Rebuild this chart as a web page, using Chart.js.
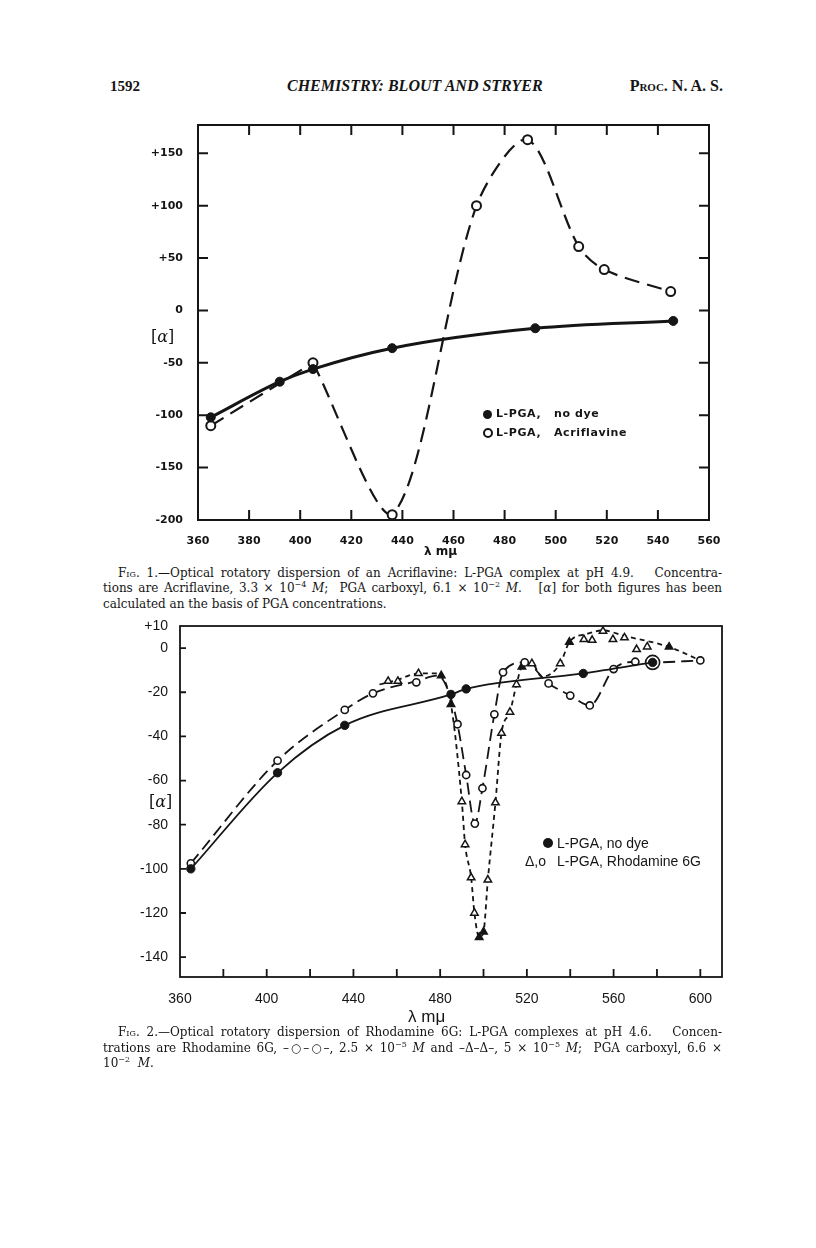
<!DOCTYPE html>
<html>
<head>
<meta charset="utf-8">
<script src="https://cdn.jsdelivr.net/npm/chart.js@4.4.1/dist/chart.umd.min.js"></script>
<style>
body{margin:0;background:#fff;}
#page{position:relative;width:816px;height:1248px;background:#fff;color:#151515;overflow:hidden;}
.t{position:absolute;white-space:nowrap;}
.serif{font-family:"DejaVu Serif",serif;}
.cap{position:absolute;left:103px;width:619px;font-family:"DejaVu Serif",serif;font-size:12px;line-height:16px;text-align:justify;text-align-last:justify;}
.cap.first{left:118px;width:604px;}
.cap.last{text-align-last:left;}
.sc{font-variant:small-caps;}
sup{font-size:8px;line-height:0;vertical-align:5px;}
.lg1{position:absolute;font-family:"DejaVu Sans",sans-serif;font-weight:bold;font-size:11px;letter-spacing:0.6px;line-height:14px;white-space:nowrap;}
.lg2{position:absolute;font-family:"Liberation Sans",sans-serif;font-size:14px;line-height:16px;white-space:nowrap;}
.dot{position:absolute;border-radius:50%;box-sizing:border-box;}
canvas{position:absolute;}
</style>
</head>
<body>
<div id="page">
  <div class="t" style="left:110px;top:78px;font-family:'Liberation Serif',serif;font-weight:bold;font-size:15px;">1592</div>
  <div class="t" style="left:287px;top:77px;font-family:'Liberation Serif',serif;font-weight:bold;font-style:italic;font-size:16px;">CHEMISTRY: BLOUT AND STRYER</div>
  <div class="t" style="right:93px;top:77px;font-family:'Liberation Serif',serif;font-weight:bold;font-size:16px;font-variant:small-caps;">Proc. N. A. S.</div>

  <canvas id="fig1" width="640" height="440" style="left:100px;top:110px;"></canvas>
  <div class="t serif" style="left:151px;top:327px;font-size:16px;">[<i>α</i>]</div>
  <div class="t" style="left:424px;top:544px;font-family:'DejaVu Sans',sans-serif;font-weight:bold;font-size:12px;">λ mμ</div>

  <div class="dot" style="left:483px;top:410px;width:9px;height:9px;background:#151515;"></div>
  <div class="lg1" style="left:496px;top:407px;">L-PGA,</div>
  <div class="lg1" style="left:554px;top:407px;">no dye</div>
  <div class="dot" style="left:483px;top:428px;width:10px;height:10px;border:2px solid #151515;"></div>
  <div class="lg1" style="left:496px;top:426px;">L-PGA,</div>
  <div class="lg1" style="left:554px;top:426px;">Acriflavine</div>

  <div class="cap first" style="top:565px;"><span class="sc">Fig.</span> 1.—Optical rotatory dispersion of an Acriflavine: L-PGA complex at pH 4.9.&nbsp;&nbsp; Concentra-</div>
  <div class="cap" style="top:580px;">tions are Acriflavine, 3.3 × 10<sup>−4</sup> <i>M</i>;&nbsp; PGA carboxyl, 6.1 × 10<sup>−2</sup> <i>M</i>.&nbsp;&nbsp; [<i>α</i>] for both figures has been</div>
  <div class="cap last" style="top:596px;">calculated an the basis of PGA concentrations.</div>

  <canvas id="fig2" width="660" height="400" style="left:80px;top:610px;"></canvas>
  <div class="t serif" style="left:149px;top:792px;font-size:16px;">[<i>α</i>]</div>
  <div class="t" style="left:408px;top:1007px;font-family:'Liberation Sans',sans-serif;font-size:17px;">λ mμ</div>

  <div class="dot" style="left:543px;top:838px;width:10px;height:10px;background:#151515;"></div>
  <div class="lg2" style="left:557px;top:835px;">L-PGA, no dye</div>
  <div class="lg2" style="left:525px;top:853px;">Δ,o</div>
  <div class="lg2" style="left:557px;top:853px;">L-PGA, Rhodamine 6G</div>

  <div class="cap first" style="top:1024px;"><span class="sc">Fig.</span> 2.—Optical rotatory dispersion of Rhodamine 6G: L-PGA complexes at pH 4.6.&nbsp;&nbsp; Concen-</div>
  <div class="cap" style="top:1040px;">trations are Rhodamine 6G, –○–○–, 2.5 × 10<sup>−5</sup> <i>M</i> and –Δ–Δ–, 5 × 10<sup>−5</sup> <i>M</i>;&nbsp; PGA carboxyl, 6.6 ×</div>
  <div class="cap last" style="top:1055px;">10<sup>−2</sup>&nbsp; <i>M</i>.</div>
</div>

<script>
// Fig. 1 - Acriflavine : L-PGA
var fig1NoDyeX = [365, 392, 405, 436, 492, 546];
var fig1NoDyeY = [-102, -68, -56, -36, -17, -10];
var fig1AcrX = [365, 405, 436, 469, 489, 509, 519, 545];
var fig1AcrY = [-110, -50, -195, 100, 163, 61, 39, 18];
var fig1XTicks = [360, 380, 400, 420, 440, 460, 480, 500, 520, 540, 560];
var fig1YTicks = [-200, -150, -100, -50, 0, 50, 100, 150];

// Fig. 2 - Rhodamine 6G : L-PGA
var fig2NoDyeX = [365, 405, 436, 485, 492, 546, 578];
var fig2NoDyeY = [-100, -56.5, -35, -21, -18.5, -11.5, -6.5];
// open circles (2.5 x 10-5 M): measured points and the drawn curve
var fig2CircX = [365, 405, 436, 449, 469, 488, 492, 496, 499.5, 505, 509, 519, 530, 540, 549, 560, 570, 578, 600];
var fig2CircY = [-97.5, -51, -28, -20.5, -15.5, -34.5, -57.5, -79.5, -63.5, -30, -11, -6.5, -16, -21.5, -26, -9.5, -6.2, -6.5, -5.6];
var fig2CircCurveX = [365, 405, 436, 449, 469, 479, 484, 488, 492, 496, 499.5, 505, 509, 519, 530, 540, 549, 560, 570, 578, 600];
var fig2CircCurveY = [-97.5, -51, -28, -20.5, -15, -12.5, -20, -34.5, -57.5, -79.5, -63.5, -30, -11, -6.5, -16, -21.5, -26, -9.5, -6.2, -6.5, -5.6];
// triangles (5 x 10-5 M)
var fig2TriX = [456, 460.5, 470, 480.5, 485, 490, 491.5, 494.3, 495.8, 498, 500, 502, 505.5, 508.3, 512.2, 515.2, 517.7, 522.3, 535.4, 539.6, 546.3, 550.1, 555.1, 559.7, 565, 570.6, 575.5, 585.6];
var fig2TriY = [-15, -15, -11.5, -12.5, -25.5, -69.5, -89, -104, -120, -131, -128.5, -105, -70, -38.5, -29, -16.5, -8.5, -7, -7, 2.7, 3.9, 3.6, 7.7, 3.9, 4.7, -0.6, 0.6, 0.5];
var fig2TriFilled = [480.5, 485, 498, 500, 517.7, 539.6, 585.6];
var fig2TriCurveX = [452, 460, 470, 478, 481, 485, 490, 491.5, 494.3, 495.8, 498, 500, 502, 505.5, 508.3, 512.2, 515.2, 517.7, 522.3, 527, 535.4, 539.6, 548, 555, 565, 585.6, 600];
var fig2TriCurveY = [-16.5, -14.5, -11.5, -11.5, -13, -25.5, -69.5, -89, -104, -120, -131, -128.5, -105, -70, -38.5, -29, -16.5, -8.5, -7, -13, -7, 2.7, 6.5, 8, 5.5, 0.5, -5.6];
var fig2XTicks = [360, 400, 440, 480, 520, 560, 600];
var fig2XMarks = [380, 400, 420, 440, 460, 480, 500, 520, 540, 560, 580, 600];
var fig2YTicks = [10, 0, -20, -40, -60, -80, -100, -120, -140];

var ink = '#151515';

function pts(xs, ys) {
    return xs.map(function (x, i) { return {x: x, y: ys[i]}; });
}

// frame round the plot and the little inward ticks
var frameTicks = {
    id: 'frameTicks',
    afterDatasetsDraw: function (chart, args, o) {
        var ctx = chart.ctx, a = chart.chartArea;
        var sx = chart.scales.x, sy = chart.scales.y;
        ctx.save();
        ctx.strokeStyle = ink;
        ctx.lineWidth = o.lineWidth;
        ctx.strokeRect(a.left, a.top, a.right - a.left, a.bottom - a.top);
        ctx.beginPath();
        o.xMarks.forEach(function (v) {
            var p = sx.getPixelForValue(v);
            if (o.bottom) { ctx.moveTo(p, a.bottom); ctx.lineTo(p, a.bottom - o.xLen); }
            if (o.top) { ctx.moveTo(p, a.top); ctx.lineTo(p, a.top + o.xLen); }
        });
        o.yMarks.forEach(function (v) {
            var p = sy.getPixelForValue(v);
            ctx.moveTo(a.left, p); ctx.lineTo(a.left + o.yLen, p);
            if (o.right) { ctx.moveTo(a.right, p); ctx.lineTo(a.right - o.yLen, p); }
        });
        ctx.stroke();
        ctx.restore();
    }
};

function setTicks(list) {
    return function (scale) {
        scale.ticks = list.map(function (v) { return {value: v}; });
    };
}

function signed(v) {
    return v > 0 ? '+' + v : (v < 0 ? '-' + Math.abs(v) : '0');
}

// the acriflavine curve has a corner at 405, so it is drawn in two pieces
var acrPts = pts(fig1AcrX, fig1AcrY);

// Fig. 1
new Chart(document.getElementById('fig1'), {
    type: 'scatter',
    data: {
        datasets: [{
            data: pts(fig1NoDyeX, fig1NoDyeY),
            showLine: true,
            cubicInterpolationMode: 'monotone',
            borderColor: ink,
            borderWidth: 3,
            pointRadius: 4.5,
            pointBackgroundColor: ink,
            pointBorderColor: ink,
            pointBorderWidth: 1
        }, {
            data: acrPts,
            showLine: false,
            pointRadius: 4.5,
            pointBackgroundColor: '#fff',
            pointBorderColor: ink,
            pointBorderWidth: 2
        }, {
            data: acrPts.slice(0, 2),
            showLine: true,
            tension: 0,
            borderColor: ink,
            borderWidth: 2.2,
            borderDash: [15, 8],
            pointRadius: 0
        }, {
            data: acrPts.slice(1),
            showLine: true,
            tension: 0.3,
            borderColor: ink,
            borderWidth: 2.2,
            borderDash: [15, 8],
            pointRadius: 0
        }]
    },
    options: {
        responsive: false,
        animation: false,
        events: [],
        layout: {padding: {top: 15, right: 31, left: 0, bottom: 0}},
        plugins: {
            legend: {display: false},
            tooltip: {enabled: false},
            frameTicks: {
                lineWidth: 2, xLen: 10, yLen: 10, top: true, bottom: true, right: true,
                xMarks: [380, 400, 420, 440, 460, 480, 500, 520, 540],
                yMarks: [-150, -100, -50, 0, 50, 100, 150]
            }
        },
        scales: {
            x: {
                type: 'linear', min: 360, max: 560,
                grid: {display: false}, border: {display: false},
                afterBuildTicks: setTicks(fig1XTicks),
                afterFit: function (s) { s.height = 30; },
                ticks: {padding: 7, color: ink, maxRotation: 0, autoSkip: false,
                    font: {family: 'DejaVu Sans', weight: 'bold', size: 11}}
            },
            y: {
                type: 'linear', min: -200, max: 177,
                grid: {display: false}, border: {display: false},
                afterBuildTicks: setTicks(fig1YTicks),
                afterFit: function (s) { s.width = 98; },
                ticks: {padding: 7, color: ink, autoSkip: false,
                    font: {family: 'DejaVu Sans', weight: 'bold', size: 11},
                    callback: signed}
            }
        }
    },
    plugins: [frameTicks]
});

// Fig. 2
new Chart(document.getElementById('fig2'), {
    type: 'scatter',
    data: {
        datasets: [{
            data: pts(fig2NoDyeX, fig2NoDyeY),
            showLine: true,
            cubicInterpolationMode: 'monotone',
            borderColor: ink,
            borderWidth: 1.8,
            pointRadius: 4.2,
            pointBackgroundColor: ink,
            pointBorderColor: ink,
            pointBorderWidth: 1
        }, {
            data: pts(fig2CircX, fig2CircY),
            showLine: false,
            pointRadius: function (c) { return c.raw && c.raw.x === 578 ? 7 : 3.6; },
            pointBackgroundColor: '#fff',
            pointBorderColor: ink,
            pointBorderWidth: 1.6
        }, {
            data: pts(fig2TriX, fig2TriY),
            showLine: false,
            pointStyle: 'triangle',
            pointRadius: 4.3,
            pointBackgroundColor: function (c) {
                return c.raw && fig2TriFilled.indexOf(c.raw.x) >= 0 ? ink : '#fff';
            },
            pointBorderColor: ink,
            pointBorderWidth: 1.5
        }, {
            data: pts(fig2CircCurveX, fig2CircCurveY),
            showLine: true,
            cubicInterpolationMode: 'monotone',
            borderColor: ink,
            borderWidth: 1.8,
            borderDash: [12, 6],
            pointRadius: 0
        }, {
            data: pts(fig2TriCurveX, fig2TriCurveY),
            showLine: true,
            cubicInterpolationMode: 'monotone',
            borderColor: ink,
            borderWidth: 1.8,
            borderDash: [5, 4],
            pointRadius: 0
        }]
    },
    options: {
        responsive: false,
        animation: false,
        events: [],
        layout: {padding: {top: 16, right: 18, left: 0, bottom: 0}},
        plugins: {
            legend: {display: false},
            tooltip: {enabled: false},
            frameTicks: {
                lineWidth: 1.8, xLen: 8, yLen: 6, top: false, bottom: true, right: false,
                xMarks: fig2XMarks,
                yMarks: [0, -20, -40, -60, -80, -100, -120, -140]
            }
        },
        scales: {
            x: {
                type: 'linear', min: 360, max: 610,
                grid: {display: false}, border: {display: false},
                afterBuildTicks: setTicks(fig2XTicks),
                afterFit: function (s) { s.height = 33; },
                ticks: {padding: 6, color: ink, maxRotation: 0, autoSkip: false,
                    font: {family: 'Liberation Sans', size: 14}}
            },
            y: {
                type: 'linear', min: -149, max: 10,
                grid: {display: false}, border: {display: false},
                afterBuildTicks: setTicks(fig2YTicks),
                afterFit: function (s) { s.width = 100; },
                ticks: {padding: 4, color: ink, autoSkip: false,
                    font: {family: 'Liberation Sans', size: 14},
                    callback: signed}
            }
        }
    },
    plugins: [frameTicks]
});
</script>
</body>
</html>
